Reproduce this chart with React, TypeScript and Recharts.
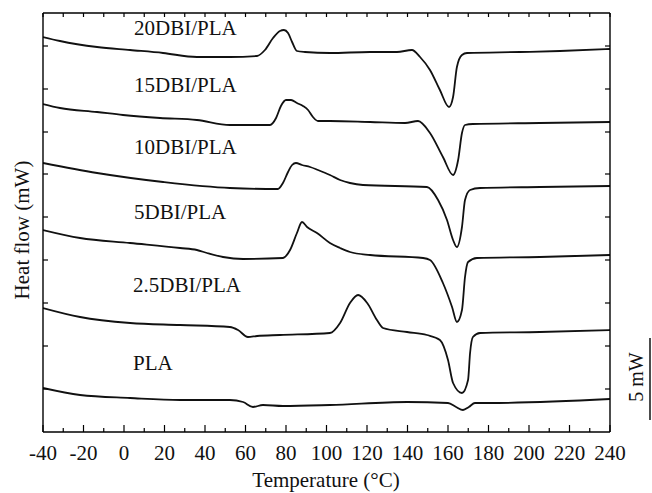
import { LineChart, Line, XAxis, YAxis } from "recharts";

// temperature (°C) and heat flow readings (arbitrary offset units, 85 units = 5 mW)
const t20 = [-40, -31.6, -13.3, 3.0, 19.3, 36.0, 52.3, 65.7, 69.6, 73.6, 77.0, 79.0, 81.0, 83.0, 85.4, 89.4, 101.7, 121.5, 134.8, 142.2, 146.2, 151.1, 156.0, 160.5, 162.5, 164.4, 166.9, 169.4, 195.6, 215.3, 240];
const hf20 = [393, 389, 383, 380, 377, 373, 373, 374, 380, 392, 399, 400, 397, 388, 379, 378, 377, 378, 378, 380, 373, 360, 340, 323, 333, 363, 375, 377, 378, 379, 381];

const t15 = [-40, -31.6, -13.3, -0.5, 17.8, 36.0, 52.3, 72.1, 75.1, 77.5, 80.0, 82.5, 85.4, 88.4, 90.9, 93.3, 95.8, 101.7, 121.5, 138.8, 145.2, 151.1, 157.5, 162.5, 165.0, 166.9, 168.4, 172.3, 205.4, 240];
const hf15 = [326, 322, 318, 315, 312, 310, 305, 305, 312, 324, 330, 330, 327, 324, 320, 313, 309, 309, 308, 307, 309, 297, 273, 255, 270, 297, 305, 306, 307, 308];

const t10 = [-40, -13.3, 19.3, 52.3, 76.0, 78.5, 81.0, 83.0, 84.9, 87.9, 91.9, 95.8, 101.7, 106.7, 111.6, 118.0, 149.6, 155.1, 159.5, 162.5, 164.4, 166.9, 168.4, 170.9, 175.8, 205.4, 240];
const hf10 = [267, 257, 248, 242, 241, 247, 258, 265, 267, 265, 263, 260, 255, 250, 247, 245, 243, 230, 210, 190, 183, 203, 230, 240, 242, 243, 244];

const t5 = [-40, -21.7, 3.0, 27.7, 36.0, 41.0, 48.9, 58.8, 78.5, 82.0, 85.4, 87.9, 90.4, 95.3, 101.7, 106.7, 111.6, 121.5, 147.7, 151.1, 157.5, 162.0, 164.4, 166.9, 168.4, 169.9, 174.3, 205.4, 240];
const hf5 = [200, 192, 187, 182, 180, 177, 173, 171, 172, 180, 197, 208, 203, 197, 187, 182, 178, 175, 172, 170, 147, 123, 108, 120, 153, 168, 172, 173, 175];

const t25 = [-40, -21.7, 3.0, 27.7, 52.3, 56.3, 61.2, 65.7, 77.0, 101.7, 106.7, 111.6, 115.6, 120.1, 124.9, 127.9, 139.8, 149.6, 156.0, 160.0, 162.5, 166.9, 169.9, 170.9, 172.3, 175.8, 205.4, 240];
const hf25 = [122, 113, 107, 105, 103, 100, 93, 94, 95, 97, 107, 127, 135, 127, 110, 102, 98, 95, 90, 70, 47, 37, 50, 77, 93, 97, 98, 100];

const tPla = [-40, -21.7, 3.0, 27.7, 52.3, 58.8, 63.7, 68.6, 78.5, 101.7, 139.8, 160.0, 164.0, 167.4, 170.3, 173.3, 179.7, 240];
const hfPla = [42, 35, 32, 30, 30, 28, 23, 25, 24, 25, 28, 27, 23, 20, 23, 27, 27, 31];

const names = ["20DBI/PLA", "15DBI/PLA", "10DBI/PLA", "5DBI/PLA", "2.5DBI/PLA", "PLA"];

const xTicks = [-40, -30, -20, -10, 0, 10, 20, 30, 40, 50, 60, 70, 80, 90, 100, 110, 120, 130, 140, 150, 160, 170, 180, 190, 200, 210, 220, 230, 240];
const yTicks = [41, 84, 127, 170, 213, 256, 298, 341, 384];

const FONT = "Liberation Serif, Times New Roman, serif";

const zip = (t: number[], v: number[]) => t.map((x, i) => ({ t: x, hf: v[i] }));

const series = [
    zip(t20, hf20),
    zip(t15, hf15),
    zip(t10, hf10),
    zip(t5, hf5),
    zip(t25, hf25),
    zip(tPla, hfPla)
];

// label spots (left x, centre y) in px
const labelPos = [
    [134, 28],
    [134, 85],
    [134, 147],
    [134, 212],
    [133, 285],
    [133, 363]
];

function BottomTick(props: any) {
    const { x, y, payload } = props;
    const major = payload.value % 20 === 0;
    return (
        <g>
            <line x1={x} x2={x} y1={y} y2={y - (major ? 7 : 4)} stroke="#000" strokeWidth={1.2} />
            {major && (
                <text x={x} y={y + 28} textAnchor="middle" fontFamily={FONT} fontSize={21} fill="#111">
                    {payload.value}
                </text>
            )}
        </g>
    );
}

function TopTick(props: any) {
    const { x, y } = props;
    return <line x1={x} x2={x} y1={y} y2={y + 4} stroke="#000" strokeWidth={1.2} />;
}

function LeftTick(props: any) {
    const { x, y } = props;
    return <line x1={x} x2={x + 5} y1={y} y2={y} stroke="#000" strokeWidth={1.2} />;
}

function RightTick(props: any) {
    const { x, y } = props;
    return <line x1={x} x2={x - 5} y1={y} y2={y} stroke="#000" strokeWidth={1.2} />;
}

export default function App() {
    return (
        <div style={{ position: "absolute", left: 0, top: 0, width: 652, height: 493, background: "#fff" }}>
            <LineChart width={652} height={493} margin={{ top: 12, right: 41, bottom: 60, left: 42 }}>
                <XAxis
                    dataKey="t"
                    type="number"
                    domain={[-40, 240]}
                    ticks={xTicks}
                    interval={0}
                    height={1}
                    tickSize={0}
                    tickMargin={0}
                    tickLine={false}
                    tick={<BottomTick />}
                    axisLine={{ stroke: "#000", strokeWidth: 1.4 }}
                    allowDataOverflow
                />
                <XAxis
                    xAxisId="top"
                    orientation="top"
                    dataKey="t"
                    type="number"
                    domain={[-40, 240]}
                    ticks={xTicks}
                    interval={0}
                    height={1}
                    tickSize={0}
                    tickMargin={0}
                    tickLine={false}
                    tick={<TopTick />}
                    axisLine={{ stroke: "#000", strokeWidth: 1.4 }}
                    allowDataOverflow
                />
                <YAxis
                    type="number"
                    domain={[-2, 417]}
                    ticks={yTicks}
                    interval={0}
                    width={1}
                    tickSize={0}
                    tickMargin={0}
                    tickLine={false}
                    tick={<LeftTick />}
                    axisLine={{ stroke: "#000", strokeWidth: 1.4 }}
                    allowDataOverflow
                />
                <YAxis
                    yAxisId="right"
                    orientation="right"
                    type="number"
                    domain={[-2, 417]}
                    ticks={yTicks}
                    interval={0}
                    width={1}
                    tickSize={0}
                    tickMargin={0}
                    tickLine={false}
                    tick={<RightTick />}
                    axisLine={{ stroke: "#000", strokeWidth: 1.4 }}
                    allowDataOverflow
                />
                {series.map((d, i) => (
                    <Line
                        key={names[i]}
                        data={d}
                        dataKey="hf"
                        type="monotone"
                        stroke="#111"
                        strokeWidth={1.8}
                        dot={false}
                        isAnimationActive={false}
                    />
                ))}
            </LineChart>

            <svg width={652} height={493} style={{ position: "absolute", left: 0, top: 0, pointerEvents: "none" }}>
                {names.map((n, i) => (
                    <text
                        key={n}
                        x={labelPos[i][0]}
                        y={labelPos[i][1]}
                        dominantBaseline="central"
                        fontFamily={FONT}
                        fontSize={21}
                        fill="#111"
                    >
                        {n}
                    </text>
                ))}
                <text x={326} y={487} textAnchor="middle" fontFamily={FONT} fontSize={21} fill="#111">
                    Temperature (°C)
                </text>
                <text
                    x={22}
                    y={230}
                    textAnchor="middle"
                    dominantBaseline="central"
                    transform="rotate(-90 22 230)"
                    fontFamily={FONT}
                    fontSize={21}
                    fill="#111"
                >
                    Heat flow (mW)
                </text>
                <text
                    x={636}
                    y={377}
                    textAnchor="middle"
                    dominantBaseline="central"
                    transform="rotate(-90 636 377)"
                    fontFamily={FONT}
                    fontSize={20}
                    fill="#111"
                >
                    5 mW
                </text>
                <line x1={650} x2={650} y1={338} y2={420} stroke="#000" strokeWidth={1.4} />
            </svg>
        </div>
    );
}
